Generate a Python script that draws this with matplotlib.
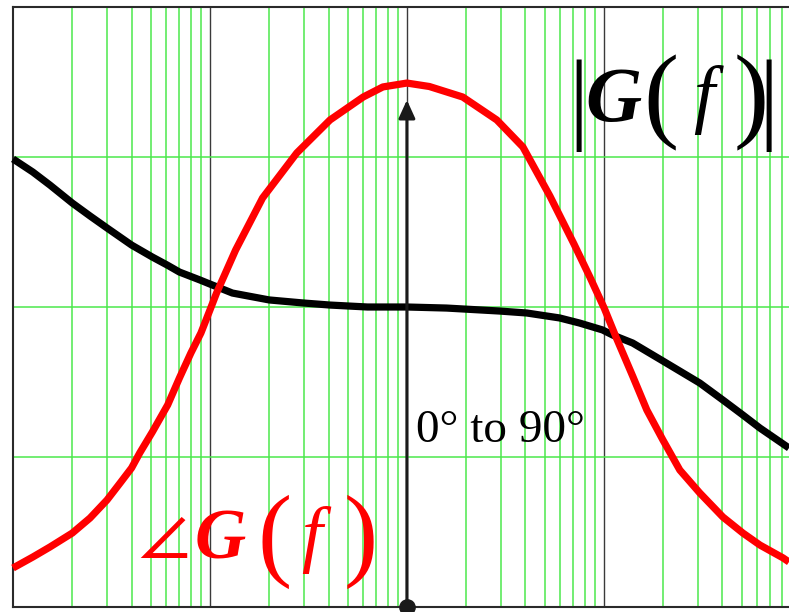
import matplotlib
matplotlib.use("Agg")
import matplotlib.pyplot as plt
from matplotlib.ticker import LogLocator, NullFormatter, FixedLocator
from matplotlib.patches import ArrowStyle

# ---------------- data ----------------
# |G(f)| magnitude curve (black)
freq_mag = [1, 1.26, 1.54, 2, 2.46, 3, 4, 5.1, 6.06, 7, 8.9, 10, 13, 20, 29.6,
            40.7, 63, 100, 159, 296, 406, 596, 753, 985, 1109, 1400, 1995,
            3070, 4020, 5080, 6200, 8710]
mag = [2.987, 2.90, 2.813, 2.693, 2.607, 2.527, 2.413, 2.333, 2.28, 2.233,
       2.18, 2.153, 2.093, 2.047, 2.027, 2.013, 2.0, 2.0, 1.993, 1.973, 1.96,
       1.927, 1.893, 1.847, 1.813, 1.76, 1.64, 1.493, 1.38, 1.28, 1.193, 1.06]

# angle G(f) phase curve (red)
freq_phase = [1, 1.26, 1.54, 2, 2.46, 3, 3.5, 4, 4.4, 5.1, 6.1, 7, 8, 9, 10,
              10.8, 13.5, 18.5, 27.6, 40.7, 60, 75.5, 100, 130, 192, 286, 388,
              532, 705, 849, 1006, 1152, 1400, 1653, 1995, 2430, 3070, 4020,
              5080, 6200, 8130, 8710]
phase = [0.26, 0.333, 0.40, 0.493, 0.593, 0.713, 0.827, 0.927, 1.027, 1.167,
         1.347, 1.527, 1.693, 1.827, 1.98, 2.093, 2.38, 2.727, 3.027, 3.247,
         3.40, 3.467, 3.493, 3.47, 3.40, 3.247, 3.067, 2.74, 2.42, 2.20, 1.99,
         1.80, 1.54, 1.313, 1.113, 0.913, 0.76, 0.60, 0.493, 0.413, 0.327,
         0.30]

# arrow (centre frequency, from 0 up to its tip)
arrow_freq = 100
arrow_top = 3.38

x_limits = (1, 10 ** 3.94)
y_limits = (0, 4)
y_grid = [1, 2, 3]
decade_lines = [10, 100, 1000]

label_mag = ["|", "G", "(", "f", ")", "|"]
label_phase_angle = r"$\angle$"
label_phase = ["G", "(", "f", ")"]
label_arrow = "0° to 90°"

# ---------------- figure ----------------
W, H = 789, 612
fig = plt.figure(figsize=(W / 100, H / 100), dpi=100)
fig.patch.set_facecolor("white")

ax = fig.add_axes([13 / W, 5 / H, (W - 13) / W, 600 / H])
ax.set_xscale("log")
ax.set_xlim(*x_limits)
ax.set_ylim(*y_limits)

green = "#4be84b"
ax.xaxis.set_major_locator(FixedLocator(decade_lines))
ax.xaxis.set_minor_locator(LogLocator(base=10, subs=[2, 3, 4, 5, 6, 7, 8, 9], numticks=20))
ax.xaxis.set_major_formatter(NullFormatter())
ax.xaxis.set_minor_formatter(NullFormatter())
ax.yaxis.set_major_locator(FixedLocator(y_grid))
ax.yaxis.set_major_formatter(NullFormatter())
ax.tick_params(which="both", length=0)

ax.grid(which="minor", axis="x", color=green, lw=1.1)
ax.grid(which="major", axis="x", color="#3a3a3a", lw=1.0)
ax.grid(which="major", axis="y", color=green, lw=1.1)
ax.set_axisbelow(True)

for side in ["left", "top", "bottom"]:
    ax.spines[side].set_color("#2a2a2a")
    ax.spines[side].set_linewidth(1.5)
ax.spines["right"].set_visible(False)

ax.plot(freq_mag, mag, color="black", lw=5.2, solid_capstyle="butt",
        solid_joinstyle="round", zorder=3, clip_on=False)
ax.plot(freq_phase, phase, color="#ff0000", lw=5.2, solid_capstyle="butt",
        solid_joinstyle="round", zorder=4, clip_on=False)

ax.annotate("", xy=(arrow_freq, arrow_top), xytext=(arrow_freq, y_limits[0]),
            arrowprops=dict(arrowstyle=ArrowStyle("-|>", head_length=1.1, head_width=0.5),
                            mutation_scale=10, color="#1a1a1a", lw=2.2,
                            shrinkA=0, shrinkB=0), zorder=5)
ax.plot([arrow_freq], [y_limits[0]], "o", ms=11, color="#1a1a1a", zorder=6,
        clip_on=False)

serif = "Liberation Serif"


def put(s, x, y, size, color, style="normal", weight="normal", family=serif):
    fig.text(x / W, 1 - y / H, s, fontsize=size, color=color, ha="left",
             va="baseline", fontstyle=style, fontweight=weight, family=family)


# |G(f)| in black
put(label_mag[0], 568, 130, 73, "black")
put(label_mag[1], 585, 120.5, 56, "black", style="italic", weight="bold")
put(label_mag[2], 643, 128, 76, "black")
put(label_mag[3], 693, 119, 54.5, "black", style="italic")
put(label_mag[4], 734, 128, 76, "black")
put(label_mag[5], 758, 130, 73, "black")

# angle G(f) in red
fig.text(138 / W, 1 - 558 / H, label_phase_angle, fontsize=54, color="#ff0000",
         ha="left", va="baseline", math_fontfamily="stix")
put(label_phase[0], 195, 558.5, 51, "#ff0000", style="italic", weight="bold")
put(label_phase[1], 257, 567, 74, "#ff0000")
put(label_phase[2], 301, 557.5, 53.7, "#ff0000", style="italic")
put(label_phase[3], 344, 567, 74, "#ff0000")

# 0° to 90°
put(label_arrow, 416, 442, 34, "black")

fig.savefig("out.png", dpi=100)
